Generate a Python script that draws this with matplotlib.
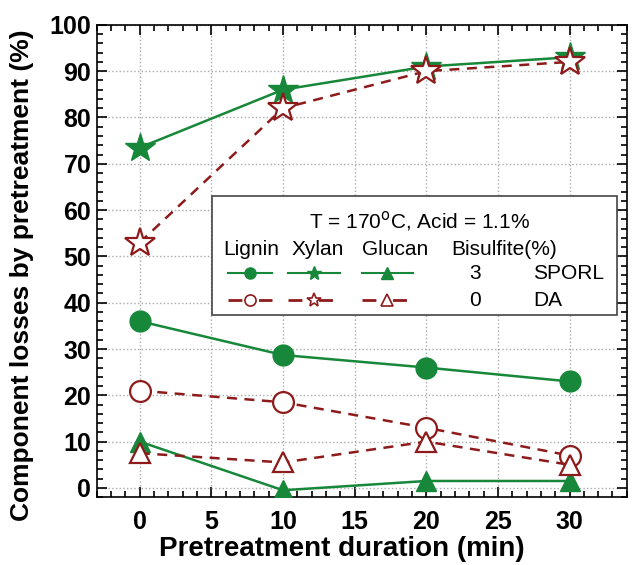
import numpy as np
import matplotlib as mpl
import matplotlib.pyplot as plt
from matplotlib.lines import Line2D
from matplotlib.ticker import MultipleLocator

mpl.rcParams['font.family'] = ['Liberation Sans', 'DejaVu Sans']

minutes = [0, 10, 20, 30]
sporl_lignin = [36, 28.7, 26, 23]
sporl_xylan = [73.5, 86, 91, 93]
sporl_glucan = [10, -0.5, 1.5, 1.5]
da_lignin = [21, 18.5, 13, 7]
da_xylan = [53, 82, 90, 92]
da_glucan = [7.5, 5.5, 10, 5]

green = '#17873a'
red = '#8e1b1b'

fig = plt.figure(figsize=(6.37, 5.65), dpi=100)
ax = fig.add_axes([0.152, 0.120, 0.832, 0.836])

ax.plot(minutes, sporl_xylan, '-', color=green, lw=1.8, marker='*', ms=22, mfc=green, mec=green, zorder=3)
ax.plot(minutes, sporl_lignin, '-', color=green, lw=1.8, marker='o', ms=15, mfc=green, mec=green, zorder=3)
ax.plot(minutes, sporl_glucan, '-', color=green, lw=1.8, marker='^', ms=15, mfc=green, mec=green, zorder=3)
ax.plot(minutes, da_xylan, '--', color=red, lw=1.8, dashes=(4, 3), marker='*', ms=22, mfc='white', mec=red, mew=1.6, zorder=3)
ax.plot(minutes, da_lignin, '--', color=red, lw=1.8, dashes=(4, 3), marker='o', ms=15, mfc='white', mec=red, mew=1.6, zorder=3)
ax.plot(minutes, da_glucan, '--', color=red, lw=1.8, dashes=(4, 3), marker='^', ms=15, mfc='white', mec=red, mew=1.6, zorder=3)

ax.set_xlim(-3, 34)
ax.set_ylim(-2, 100)
ax.xaxis.set_major_locator(MultipleLocator(5))
ax.xaxis.set_minor_locator(MultipleLocator(1))
ax.yaxis.set_major_locator(MultipleLocator(10))
ax.yaxis.set_minor_locator(MultipleLocator(2))
ax.tick_params(which='both', direction='in', top=True, right=True, width=1.2)
ax.tick_params(which='major', length=7, labelsize=18)
ax.tick_params(axis='x', which='major', pad=9)
ax.tick_params(axis='y', which='major', pad=4)
ax.tick_params(which='minor', length=4)
for lab in ax.get_xticklabels() + ax.get_yticklabels():
    lab.set_fontweight('bold')
ax.grid(True, which='major', color='#aaaaaa', ls=':', lw=1)
for s in ax.spines.values():
    s.set_linewidth(1.2)

ax.set_xlabel('Pretreatment duration (min)', fontsize=20, fontweight='bold')
ax.set_ylabel('Component losses by pretreatment (%)', fontsize=19, fontweight='bold')
ax.xaxis.set_label_coords(0.462, -0.082)
ax.yaxis.set_label_coords(-0.118, 0.47)

# custom legend box
box = plt.Rectangle((0.217, 0.386), 0.764, 0.252, transform=ax.transAxes,
                    fc='white', ec='#444444', lw=1.2, zorder=5)
ax.add_patch(box)

def px(x):
    return (x - 97) / 530.0

def py(y):
    return (497 - y) / 472.0

ax.text(px(420), py(221), 'T = 170$^{\\mathrm{o}}$C, Acid = 1.1%', transform=ax.transAxes,
        ha='center', va='center', fontsize=15, zorder=6)
for name, xc in [('Lignin', 251), ('Xylan', 318), ('Glucan', 395), ('Bisulfite(%)', 504)]:
    ax.text(px(xc), py(249), name, transform=ax.transAxes, ha='center', va='center', fontsize=15, zorder=6)

segs = [(228, 272, 'o'), (288, 340, '*'), (362, 413, '^')]
for x0, x1, m in segs:
    ax.add_line(Line2D([px(x0), px(x1)], [py(273), py(273)], transform=ax.transAxes, color=green,
                       lw=1.5, zorder=6))
    ax.add_line(Line2D([px((x0 + x1) / 2)], [py(273)], transform=ax.transAxes, marker=m,
                       ms=8 if m != '*' else 10, color=green, zorder=7))
    ax.add_line(Line2D([px(x0), px(x1)], [py(300), py(300)], transform=ax.transAxes, color=red,
                       lw=2, dashes=(5, 6), zorder=6))
    ax.add_line(Line2D([px((x0 + x1) / 2)], [py(300)], transform=ax.transAxes, marker=m,
                       ms=8 if m != '*' else 10, color=red, mfc='white', mew=1.2, zorder=7))

ax.text(px(475), py(273), '3', transform=ax.transAxes, ha='center', va='center', fontsize=15, zorder=6)
ax.text(px(475), py(300), '0', transform=ax.transAxes, ha='center', va='center', fontsize=15, zorder=6)
ax.text(px(533), py(273), 'SPORL', transform=ax.transAxes, ha='left', va='center', fontsize=15, zorder=6)
ax.text(px(533), py(300), 'DA', transform=ax.transAxes, ha='left', va='center', fontsize=15, zorder=6)

plt.savefig('out.png', dpi=100)
